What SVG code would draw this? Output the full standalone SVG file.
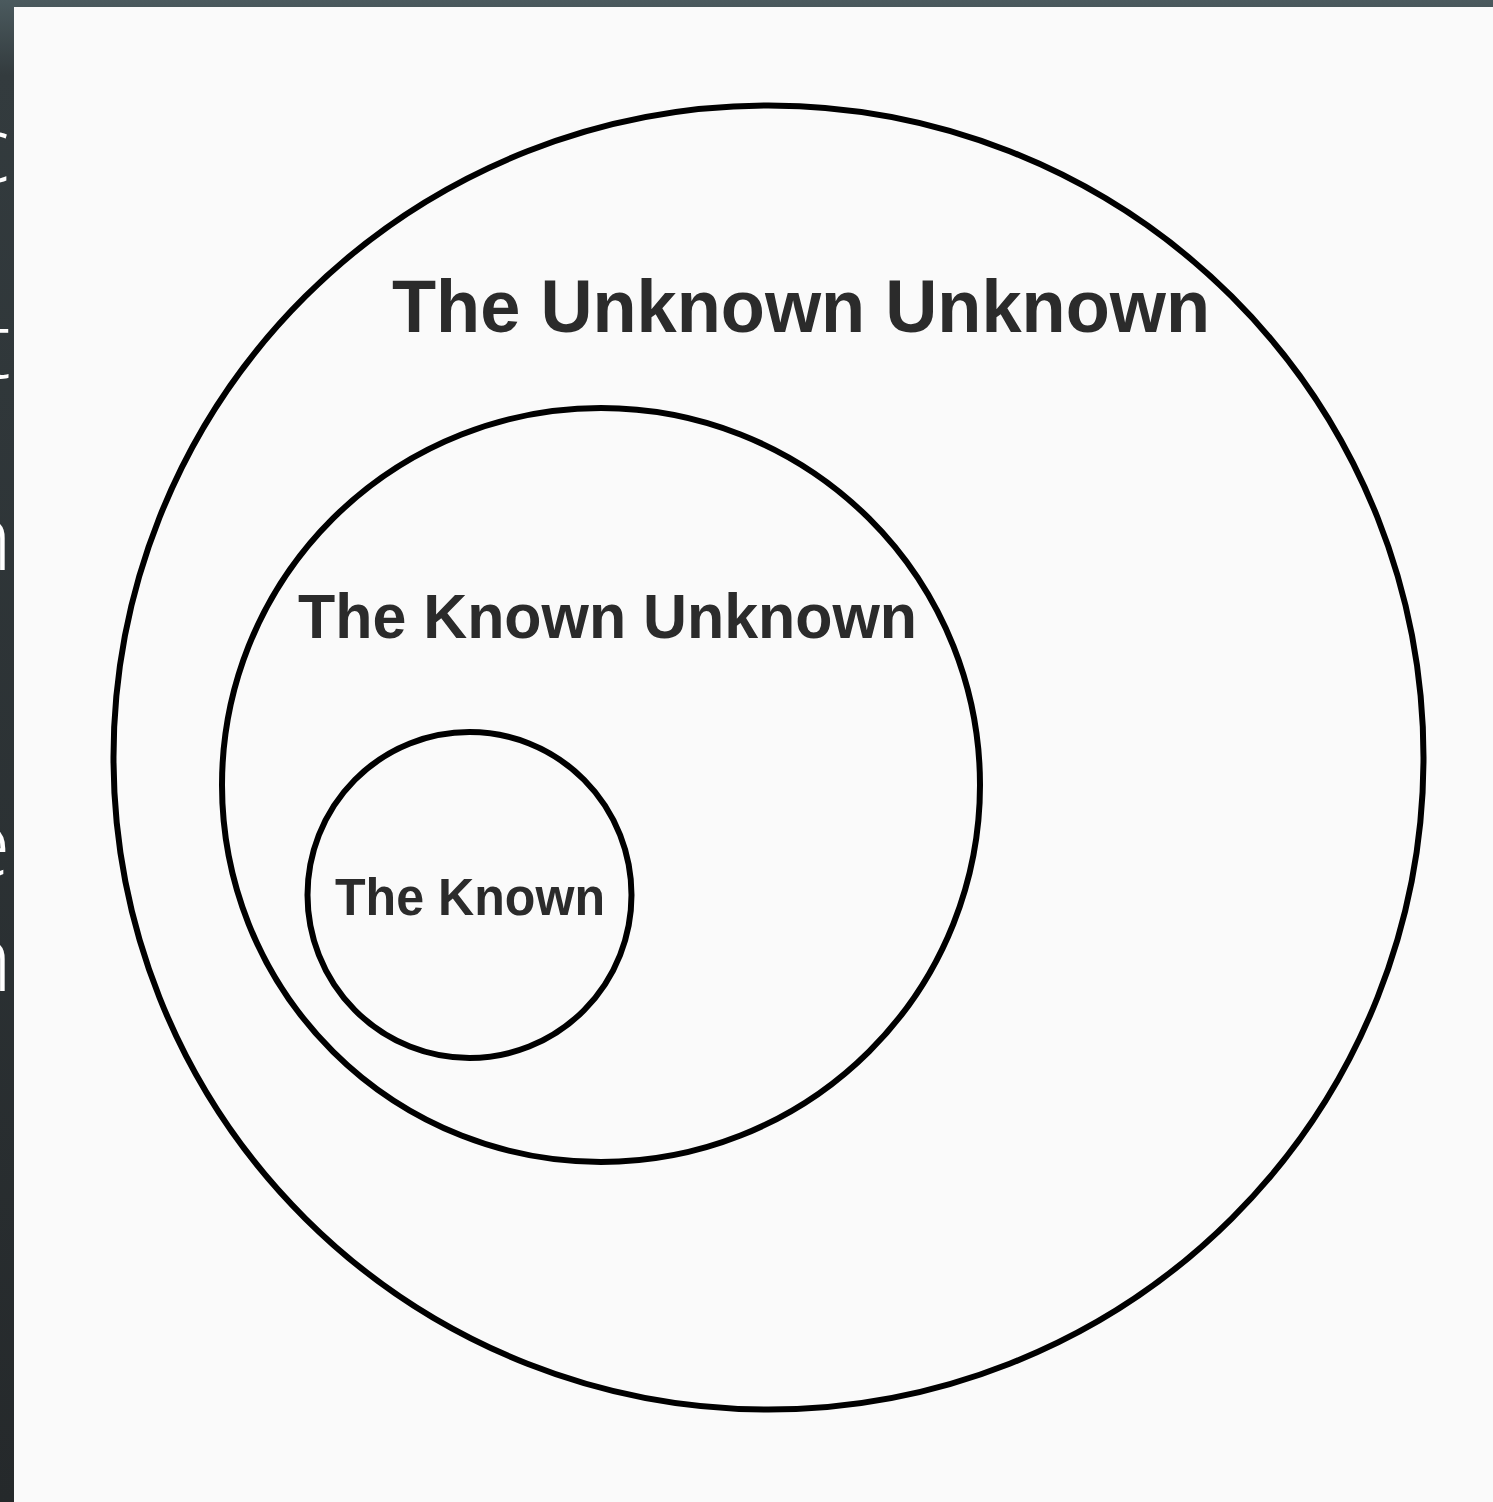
<svg xmlns="http://www.w3.org/2000/svg" width="1493" height="1502" viewBox="0 0 1493 1502">
  <defs>
    <linearGradient id="bg" x1="0" y1="0" x2="0" y2="1">
      <stop offset="0" stop-color="#4b5a5e"/>
      <stop offset="0.05" stop-color="#333b3e"/>
      <stop offset="1" stop-color="#25292b"/>
    </linearGradient>
    <clipPath id="leftStrip">
      <rect x="0" y="0" width="14" height="1502"/>
    </clipPath>
    <style>
      .ring { fill: none; stroke: #000; stroke-width: 6; }
      .label { font-family: "Liberation Sans", Arial, sans-serif; font-weight: bold; fill: #2b2b2b; }
      .frag { font-family: "Open Sans", "Liberation Sans", sans-serif; font-weight: 300; fill: #ffffff; font-size: 92px; }
    </style>
  </defs>

  <rect x="0" y="0" width="1493" height="1502" fill="url(#bg)"/>
  <rect x="14" y="7" width="1479" height="1495" fill="#fafafa"/>

  <g id="slide-fragments" clip-path="url(#leftStrip)">
    <text class="frag" x="-34" y="182">c</text>
    <text class="frag" x="-20" y="378">t</text>
    <text class="frag" x="-42" y="570">n</text>
    <text class="frag" x="11" y="680">c</text>
    <text class="frag" x="-40" y="876">e</text>
    <text class="frag" x="-42" y="991">n</text>
  </g>

  <g id="unknown-unknown">
    <ellipse class="ring" cx="768.5" cy="757.5" rx="655" ry="652"/>
    <text class="label" x="392" y="332" font-size="74" textLength="818" lengthAdjust="spacingAndGlyphs">The Unknown Unknown</text>
  </g>

  <g id="known-unknown">
    <ellipse class="ring" cx="601" cy="785" rx="379" ry="377"/>
    <text class="label" x="298" y="638" font-size="63" textLength="619" lengthAdjust="spacingAndGlyphs">The Known Unknown</text>
  </g>

  <g id="known">
    <ellipse class="ring" cx="469.5" cy="895" rx="162" ry="163"/>
    <text class="label" x="335" y="915" font-size="51" textLength="270" lengthAdjust="spacingAndGlyphs">The Known</text>
  </g>

  <g id="connectors"></g>
</svg>
